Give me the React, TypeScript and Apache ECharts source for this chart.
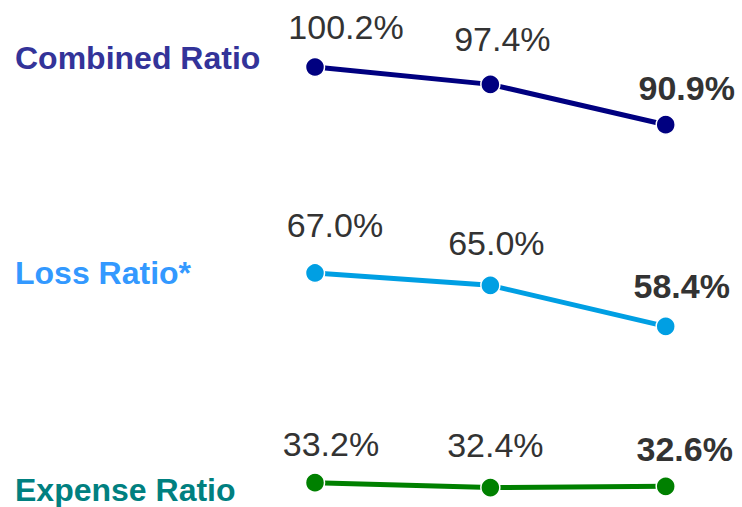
import React, { useEffect, useRef } from "react";
import * as echarts from "echarts";

// Three reporting periods (unlabelled on the chart)
const periods = ["P1", "P2", "P3"];

const combinedRatio = [100.2, 97.4, 90.9];
const lossRatio = [67.0, 65.0, 58.4];
const expenseRatio = [33.2, 32.4, 32.6];

const seriesNames = ["Combined Ratio", "Loss Ratio*", "Expense Ratio"];

// Styling
const lineColors = ["#000080", "#009FE3", "#008000"];
const titleColors = ["#333399", "#3399FF", "#008080"];
const titleCenters = [57.5, 272.5, 490];
const labelOffsets = [
  [[31, -40], [12, -45], [21, -37]],
  [[20, -48], [6, -42], [16, -40]],
  [[16, -39], [5, -43], [19, -37]],
];

const FONT = "Liberation Sans, Arial, sans-serif";

export default function App() {
  const ref = useRef<HTMLDivElement>(null);

  useEffect(() => {
    if (!ref.current) return;
    const chart = echarts.init(ref.current, undefined, { renderer: "svg" });
    const allSeries = [combinedRatio, lossRatio, expenseRatio];

    chart.setOption({
      animation: false,
      backgroundColor: "#ffffff",
      grid: { left: 315, right: 76.3, top: 6.2, bottom: 4.5 },
      xAxis: {
        type: "category",
        data: periods,
        boundaryGap: false,
        show: false,
      },
      yAxis: {
        type: "value",
        min: 30,
        max: 110,
        show: false,
      },
      graphic: seriesNames.map((name, i) => ({
        type: "text",
        x: 15,
        y: titleCenters[i],
        style: {
          text: name,
          fill: titleColors[i],
          fontFamily: FONT,
          fontWeight: "bold",
          fontSize: 32,
          lineHeight: 32,
          verticalAlign: "middle",
          align: "left",
        },
      })),
      series: allSeries.map((values, si) => ({
        type: "line",
        name: seriesNames[si],
        data: values.map((v, pi) => {
          const last = pi === values.length - 1;
          return {
            value: v,
            label: {
              show: true,
              position: "inside",
              align: "center",
              verticalAlign: "middle",
              offset: labelOffsets[si][pi],
              formatter: (p: any) => `${Number(p.value).toFixed(1)}%`,
              color: "#333333",
              fontFamily: FONT,
              fontSize: 34,
              fontWeight: last ? "bold" : "normal",
            },
          };
        }),
        symbol: "circle",
        symbolSize: 19,
        showAllSymbol: true,
        lineStyle: { color: lineColors[si], width: 5 },
        itemStyle: {
          color: lineColors[si],
          borderColor: "#ffffff",
          borderWidth: 1.5,
        },
        emphasis: { disabled: true },
        z: 2,
      })),
    });

    return () => chart.dispose();
  }, []);

  return (
    <div
      ref={ref}
      style={{ position: "fixed", left: 0, top: 0, width: 742, height: 507 }}
    />
  );
}
